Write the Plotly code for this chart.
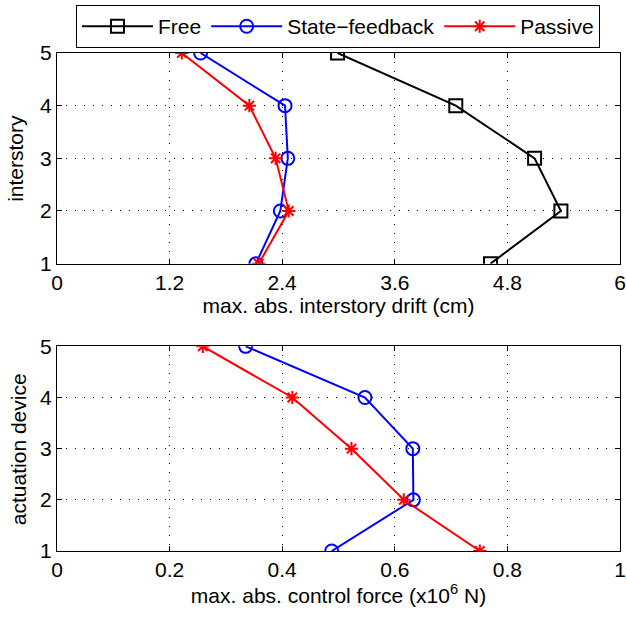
import plotly.graph_objects as go

levels = [1, 2, 3, 4, 5]
drift_free = [4.62, 5.37, 5.09, 4.25, 2.99]
drift_state = [2.12, 2.38, 2.46, 2.43, 1.53]
drift_passive = [2.15, 2.47, 2.33, 2.05, 1.33]

force_state = [0.488, 0.633, 0.632, 0.547, 0.335]
force_passive = [0.751, 0.616, 0.523, 0.418, 0.259]

top_xticks = [0, 1.2, 2.4, 3.6, 4.8, 6]
top_xlabels = ["0", "1.2", "2.4", "3.6", "4.8", "6"]
bot_xticks = [0, 0.2, 0.4, 0.6, 0.8, 1]
bot_xlabels = ["0", "0.2", "0.4", "0.6", "0.8", "1"]

FONT = "Liberation Sans, Arial, sans-serif"
FS = 21

fig = go.Figure()
fig.add_trace(go.Scatter(x=drift_free, y=levels, mode="lines+markers", name="Free",
                         line=dict(color="black", width=2),
                         marker=dict(symbol="square-open", size=13, color="black", line=dict(width=2)),
                         xaxis="x", yaxis="y"))
fig.add_trace(go.Scatter(x=drift_state, y=levels, mode="lines+markers", name="State\u2212feedback",
                         line=dict(color="blue", width=2),
                         marker=dict(symbol="circle-open", size=13, color="blue", line=dict(width=2)),
                         xaxis="x", yaxis="y"))
fig.add_trace(go.Scatter(x=drift_passive, y=levels, mode="lines+markers", name="Passive",
                         line=dict(color="red", width=2),
                         marker=dict(symbol="asterisk-open", size=11, color="red", line=dict(width=2, color="red")),
                         xaxis="x", yaxis="y"))
fig.add_trace(go.Scatter(x=force_state, y=levels, mode="lines+markers", name="State\u2212feedback",
                         line=dict(color="blue", width=2), showlegend=False,
                         marker=dict(symbol="circle-open", size=13, color="blue", line=dict(width=2)),
                         xaxis="x2", yaxis="y2"))
fig.add_trace(go.Scatter(x=force_passive, y=levels, mode="lines+markers", name="Passive",
                         line=dict(color="red", width=2), showlegend=False,
                         marker=dict(symbol="asterisk-open", size=11, color="red", line=dict(width=2, color="red")),
                         xaxis="x2", yaxis="y2"))

axis_common = dict(showline=True, linecolor="black", linewidth=1, mirror="ticks",
                   ticks="inside", ticklen=5, tickcolor="black",
                   showgrid=True, gridcolor="black", gridwidth=1, griddash="1px,8px",
                   zeroline=False, automargin=False,
                   tickfont=dict(size=FS, color="black", family=FONT))

fig.update_layout(
    width=626, height=619,
    margin=dict(l=57, r=6, t=52, b=68),
    paper_bgcolor="white", plot_bgcolor="white",
    font=dict(family=FONT, size=FS, color="black"),
    xaxis=dict(domain=[0, 1], anchor="y", range=[0, 6], tickvals=top_xticks, ticktext=top_xlabels,
               title=dict(text="max. abs. interstory drift (cm)", standoff=0, font=dict(size=FS)), **axis_common),
    yaxis=dict(domain=[0.577, 1], anchor="x", range=[1, 5], tickvals=levels, **axis_common),
    xaxis2=dict(domain=[0, 1], anchor="y2", range=[0, 1], tickvals=bot_xticks, ticktext=bot_xlabels,
                title=dict(text="max. abs. control force (x10<sup>6</sup> N)", standoff=0, font=dict(size=FS)), **axis_common),
    yaxis2=dict(domain=[0, 0.411], anchor="x2", range=[1, 5], tickvals=levels, **axis_common),
    legend=dict(orientation="h", x=0.0337, xanchor="left", y=1.094, yanchor="top",
                bordercolor="black", borderwidth=1, bgcolor="white",
                font=dict(size=FS, family=FONT), itemwidth=71, tracegroupgap=0),
    showlegend=True,
    annotations=[
        dict(text="interstory", textangle=-90, xref="paper", yref="y domain", x=-0.0737, y=0.5,
             xanchor="center", yanchor="middle", showarrow=False, font=dict(size=FS, family=FONT)),
        dict(text="actuation device", textangle=-90, xref="paper", yref="y2 domain", x=-0.0684, y=0.5,
             xanchor="center", yanchor="middle", showarrow=False, font=dict(size=FS, family=FONT)),
    ],
)

fig.write_html("out.html", config={"displayModeBar": False},
               post_script="document.body.style.margin='0';document.body.style.padding='0';window.dispatchEvent(new Event('resize'));")
